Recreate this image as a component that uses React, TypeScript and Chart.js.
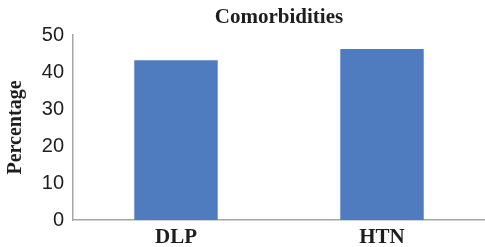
import React, { useEffect, useRef } from "react";
import { Chart, registerables } from "chart.js";

Chart.register(...registerables);

const categories = ["DLP", "HTN"];
const percentages = [43.2, 46.2];
const yTicks = [0, 10, 20, 30, 40, 50];

export default function App() {
  const ref = useRef<HTMLCanvasElement | null>(null);

  useEffect(() => {
    const canvas = ref.current;
    if (!canvas) return;
    const serif = "'Liberation Serif', 'Times New Roman', serif";
    const sans = "'Liberation Sans', Arial, sans-serif";
    const chart = new Chart(canvas, {
      type: "bar",
      data: {
        labels: categories,
        datasets: [
          {
            data: percentages,
            backgroundColor: "#4f7bbf",
            borderWidth: 0,
            barPercentage: 0.405,
            categoryPercentage: 1,
          },
        ],
      },
      options: {
        responsive: false,
        animation: false,
        layout: { padding: 0 },
        plugins: {
          legend: { display: false },
          tooltip: { enabled: false },
          title: {
            display: true,
            text: "Comorbidities",
            fullSize: false,
            color: "#1e1e1e",
            font: { family: serif, size: 21, weight: "bold", lineHeight: 1.2 },
            padding: { top: 5, bottom: 4.8 },
          },
        },
        scales: {
          x: {
            grid: { display: false, drawTicks: false },
            border: { display: true, color: "#a6a6a6", width: 1.5 },
            ticks: {
              color: "#1e1e1e",
              padding: 5,
              font: { family: serif, size: 21, weight: "bold", lineHeight: 1.2 },
            },
            afterFit: (scale: any) => {
              scale.height = 27;
            },
          },
          y: {
            min: 0,
            max: 50,
            afterBuildTicks: (scale: any) => {
              scale.ticks = yTicks.map((v) => ({ value: v }));
            },
            grid: { display: false, drawTicks: false },
            border: { display: true, color: "#a6a6a6", width: 1.5 },
            ticks: {
              color: "#1e1e1e",
              padding: 9,
              font: { family: sans, size: 20, lineHeight: 1.2 },
            },
            title: {
              display: true,
              text: "Percentage",
              color: "#1e1e1e",
              font: { family: serif, size: 20, weight: "bold", lineHeight: 1.2 },
              padding: { top: 3.5, bottom: 0 },
            },
            afterFit: (scale: any) => {
              scale.width = 73;
            },
          },
        },
      },
    });
    return () => chart.destroy();
  }, []);

  return (
    <div style={{ position: "fixed", left: 0, top: 0, width: 485, height: 247, background: "#fff" }}>
      <canvas ref={ref} width={485} height={247} style={{ display: "block" }} />
    </div>
  );
}
